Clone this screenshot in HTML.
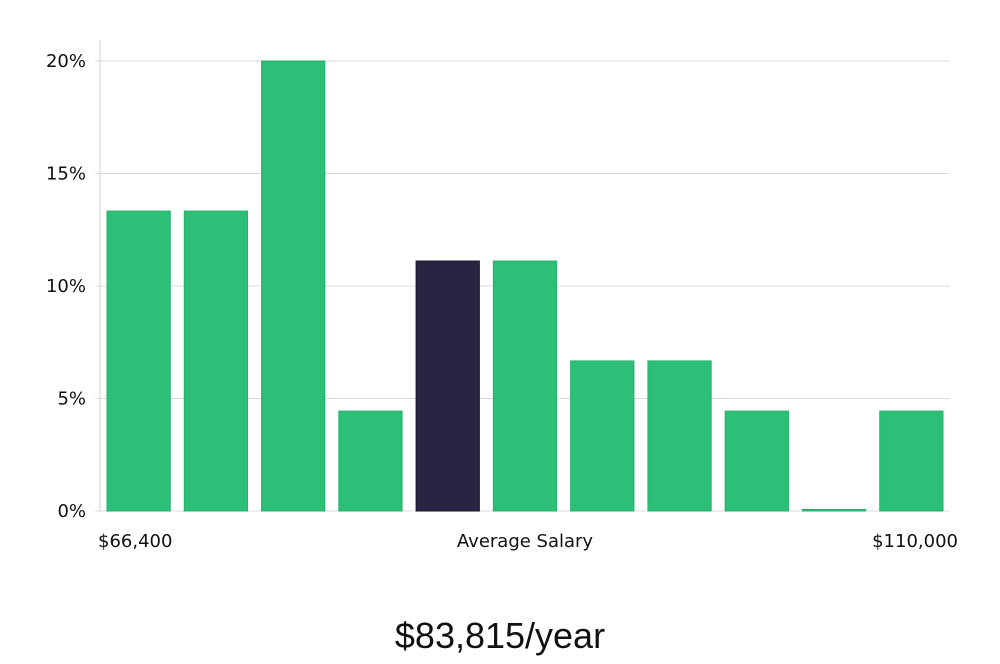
<!DOCTYPE html>
<html><head><meta charset="utf-8"><style>
body{margin:0;background:#fff;width:1000px;height:660px;overflow:hidden;font-family:"DejaVu Sans","Liberation Sans",sans-serif}
</style></head><body>
<svg id="chart" width="1000" height="660" xmlns="http://www.w3.org/2000/svg">
<g id="grid"></g>
<g id="bars"></g>
<g id="axis"></g>
<text x="98" y="547" font-size="18" fill="#111">$66,400</text>
<text x="525" y="547" font-size="18" fill="#111" text-anchor="middle">Average Salary</text>
<text x="958" y="547" font-size="18" fill="#111" text-anchor="end">$110,000</text>
<text x="500" y="648" font-size="36" fill="#111" text-anchor="middle" font-family="Liberation Sans, sans-serif" font-weight="300">$83,815/year</text>
</svg>
<script>
const values = [13.33, 13.33, 20, 4.44, 11.11, 11.11, 6.67, 6.67, 4.44, 0, 4.44];
const highlightIndex = [4];
const yTicks = [0, 5, 10, 15, 20];
const tickLabels = ["0%", "5%", "10%", "15%", "20%"];
const NS = "http://www.w3.org/2000/svg";
const x0 = 100, x1 = 950, yBase = 511, yTop = 61, yMax = 20;
const slot = (x1 - x0) / values.length;
function y(v){ return yBase - (v / yMax) * (yBase - yTop); }
function xs(i){ return x0 + i * slot; }
function mk(tag, attrs, parent){ const e = document.createElementNS(NS, tag); for (const k in attrs) e.setAttribute(k, attrs[k]); parent.appendChild(e); return e; }
const grid = document.getElementById('grid'), axis = document.getElementById('axis'), bars = document.getElementById('bars');
yTicks.forEach((t, i) => {
  const g = mk('line', {x1: 95, x2: x1, y1: y(t), y2: y(t), stroke: '#dcdcdc', 'stroke-width': 1}, grid);
  
  
  const l = mk('text', {x: 86, y: y(t) + 6, 'font-size': 18, fill: '#111', 'text-anchor': 'end'}, axis);
  l.textContent = tickLabels[i];
  
  
});
const al = mk('line', {x1: x0, x2: x0, y1: 40, y2: yBase, stroke: '#d0d0d0', 'stroke-width': 1}, axis);


values.forEach((v, i) => {
  const hi = highlightIndex.includes(i);
  const top = Math.min(y(v), yBase - 1.5);
  const r = mk('rect', {x: xs(i) + 7, y: top, width: slot - 14, height: yBase - top, fill: hi ? '#272542' : '#2bbf77', stroke: hi ? '#15132a' : '#27b06c', 'stroke-width': 1}, bars);
  
  
});
</script>
</body></html>
